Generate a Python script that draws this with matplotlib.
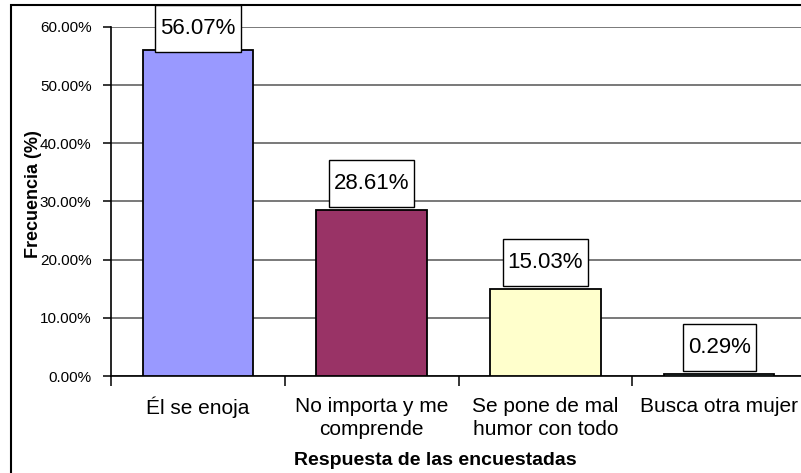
import matplotlib
matplotlib.use("Agg")
import matplotlib.pyplot as plt
from matplotlib import font_manager
from matplotlib.patches import Rectangle
from matplotlib.ticker import FuncFormatter

# ---- data ----
categories = ["Él se enoja", "No importa y me\ncomprende",
              "Se pone de mal\nhumor con todo", "Busca otra mujer"]
values = [56.07, 28.61, 15.03, 0.29]
value_labels = ["56.07%", "28.61%", "15.03%", "0.29%"]
bar_colors = ["#9999FF", "#993366", "#FFFFCC", "#CCFFFF"]
y_ticks = [0, 10, 20, 30, 40, 50, 60]
x_title = "Respuesta de las encuestadas"
y_title = "Frecuencia (%)"

W, H = 801, 473
fig = plt.figure(figsize=(W / 100, H / 100), dpi=100)
fig.patch.set_facecolor("white")

names = {f.name for f in font_manager.fontManager.ttflist}
if "Liberation Sans Narrow" in names:
    lab_font, lab_size = "Liberation Sans Narrow", 19
else:
    lab_font, lab_size = "Liberation Sans", 16
base_font = "Liberation Sans" if "Liberation Sans" in names else "DejaVu Sans"

# axes: left 111px, right 806px (beyond the image), top 27px, bottom 376px
ax_l, ax_r, ax_t, ax_b = 111, 806, 27, 376
ax = fig.add_axes([ax_l / W, (H - ax_b) / H, (ax_r - ax_l) / W, (ax_b - ax_t) / H])
ax.set_facecolor("white")

x = list(range(len(categories)))
ax.bar(x, values, width=0.635, color=bar_colors, edgecolor="black",
       linewidth=1.3, zorder=3)

ax.set_xlim(-0.5, len(categories) - 0.5)
ax.set_ylim(0, 60)
ax.set_yticks(y_ticks)
ax.yaxis.set_major_formatter(FuncFormatter(lambda v, p: f"{v:.2f}%"))
ax.grid(axis="y", color="#6e6e6e", linewidth=1.3, zorder=0)
ax.set_axisbelow(True)

for s in ["top", "right"]:
    ax.spines[s].set_visible(False)
ax.spines["left"].set_linewidth(1.2)
ax.spines["bottom"].set_linewidth(1.2)

ax.tick_params(axis="y", direction="out", length=6, width=1.1, pad=8,
               labelsize=11)
for t in ax.get_yticklabels():
    t.set_fontfamily(base_font)

# x ticks at category boundaries, labels at centers
ax.set_xticks([i + 0.5 for i in x[:-1]] + [-0.5])
ax.set_xticks(x, minor=True)
ax.set_xticklabels([""] * len(ax.get_xticks()))
ax.set_xticklabels(categories, minor=True, fontsize=15, fontfamily=base_font,
                   multialignment="center")
ax.tick_params(axis="x", which="major", direction="out", length=7, width=1.1)
ax.tick_params(axis="x", which="minor", length=0, pad=15)
for t in ax.get_xticklabels(minor=True):
    t.set_linespacing(1.25)

fig.text(435 / W, 1 - 460 / H, x_title, ha="center", va="center",
         fontsize=14, fontweight="bold", fontfamily=base_font)
fig.text(34 / W, 1 - 194 / H, y_title, ha="center", va="center",
         rotation=90, fontsize=13, fontweight="bold", fontfamily=base_font)

# outer chart frame
fig.add_artist(Rectangle((11 / W, -0.1), 1.2, 1 - 5 / H + 0.1,
                         transform=fig.transFigure, fill=False,
                         edgecolor="black", linewidth=1.5, clip_on=False))

# data labels in boxes
fig.canvas.draw()
renderer = fig.canvas.get_renderer()
top_limit = H - 5  # display y of frame top
for xi, v, lab in zip(x, values, value_labels):
    t = ax.text(xi, v, lab, ha="center", va="center", fontsize=lab_size,
                fontfamily=lab_font, color="black", zorder=6)
    ext = t.get_window_extent(renderer)
    bw = ext.width + 10
    bh = 47
    cx, bar_top = ax.transData.transform((xi, v))
    bottom = bar_top + 3
    if bottom + bh > top_limit:
        bottom = top_limit - bh
    cy = bottom + bh / 2
    inv = ax.transData.inverted()
    dx, dy = inv.transform((cx, cy))
    t.set_position((dx, dy))
    (x0, y0) = inv.transform((cx - bw / 2, bottom))
    (x1, y1) = inv.transform((cx + bw / 2, bottom + bh))
    ax.add_patch(Rectangle((x0, y0), x1 - x0, y1 - y0, facecolor="white",
                           edgecolor="black", linewidth=1.0, zorder=5,
                           clip_on=False))

fig.savefig("out.png", dpi=100)
